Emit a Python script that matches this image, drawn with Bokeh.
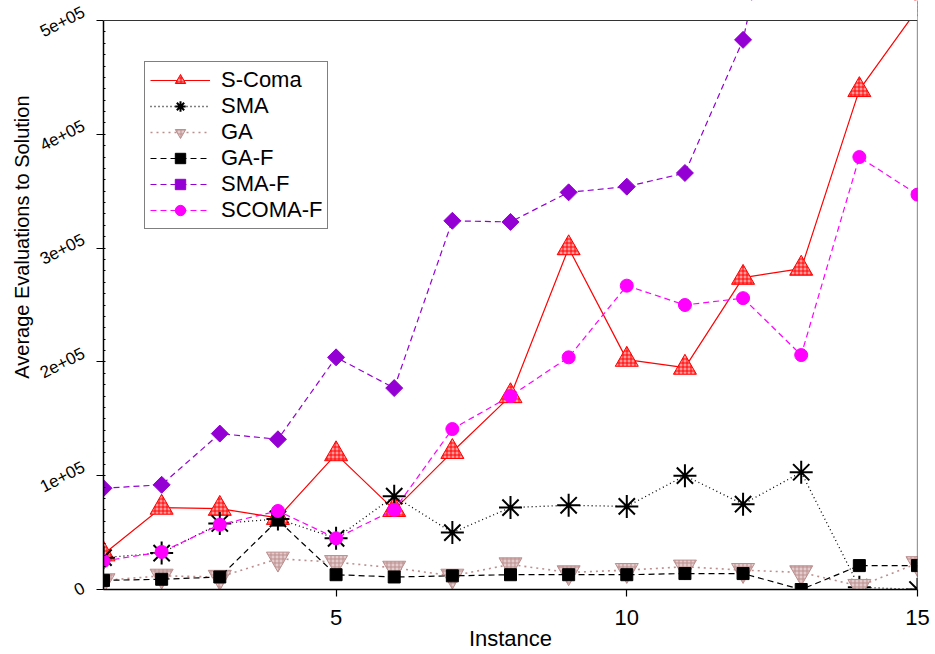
import math
from bokeh.plotting import figure
from bokeh.models import FixedTicker, Legend, LegendItem, Range1d, Title, LinearAxis, Span, BoxAnnotation
from bokeh.embed import file_html
from bokeh.resources import INLINE

# ---------------- data ----------------
instances = list(range(1, 16))
s_coma = [31000, 72000, 71000, 63000, 119000, 70000, 121000, 170000, 300000, 202000, 195000, 274000, 282000, 439000, 510000]
sma = [28000, 32000, 58000, 62000, 45000, 82000, 50000, 72000, 74000, 73000, 100000, 75000, 103000, 2000, 0]
ga = [8000, 12000, 11000, 27000, 24000, 19000, 12000, 22000, 15000, 17000, 20000, 17000, 15000, 3000, 23000]
ga_f = [8000, 9000, 11000, 61000, 13000, 11000, 12000, 13000, 13000, 13000, 14000, 14000, 0, 21000, 21000]
sma_f = [89000, 92000, 137000, 132000, 204000, 177000, 324000, 323000, 349000, 354000, 366000, 483000, 720000, 760000, 800000]
scoma_f = [25000, 33000, 57000, 69000, 45000, 70000, 141000, 170000, 204000, 267000, 250000, 256000, 206000, 380000, 347000]

y_ticks = [0, 100000, 200000, 300000, 400000, 500000]
y_tick_labels = ["0", "1e+05", "2e+05", "3e+05", "4e+05", "5e+05"]
y_minor_ticks = [k * 10000 for k in range(51)]
x_ticks = [5, 10, 15]
X_MIN, X_MAX = 1, 15
Y_MAX = 500000

FONT = "Liberation Sans"
W, H = 935, 654
B_LEFT, B_RIGHT, B_BOTTOM = 103, 18, 65
PLOT_TOP = 20          # where the visible plot box starts
FRAME_TOP = 0          # frame reaches the canvas top so the top tick label has room
data_h = H - PLOT_TOP - B_BOTTOM
frame_h = H - FRAME_TOP - B_BOTTOM
Y_TOP = Y_MAX * frame_h / data_h
px = Y_TOP / frame_h   # data units per pixel


def label_lift(text):
    # rotated labels are centred on their tick: longer labels need a larger lift
    return (3 + 7 * (len(text) - 1) / 4) * px


p = figure(width=W, height=H, x_range=Range1d(X_MIN, X_MAX), y_range=Range1d(0, Y_TOP),
           output_backend="svg", toolbar_location=None,
           min_border_left=B_LEFT, min_border_right=B_RIGHT, min_border_top=FRAME_TOP,
           min_border_bottom=B_BOTTOM)
p.grid.visible = False
p.outline_line_color = None
p.background_fill_color = "white"
p.border_fill_color = "white"

# x axis
xa = p.xaxis[0]
xa.ticker = FixedTicker(ticks=x_ticks)
xa.major_tick_out = 7
xa.major_tick_in = 0
xa.minor_tick_out = 0
xa.minor_tick_in = 0
xa.axis_line_width = 1.5
xa.major_tick_line_width = 1.2
xa.major_label_text_font = FONT
xa.major_label_text_font_size = "22px"
xa.major_label_text_color = "black"
xa.major_label_standoff = 13
xa.axis_label = "Instance"
xa.axis_label_text_font = FONT
xa.axis_label_text_font_size = "22px"
xa.axis_label_text_font_style = "normal"
xa.axis_label_text_color = "black"
xa.axis_label_standoff = -2

# y axis: line + ticks (labels drawn by a companion axis)
ya = p.yaxis[0]
ya.ticker = FixedTicker(ticks=y_ticks, minor_ticks=y_minor_ticks)
ya.bounds = (0, Y_MAX)
ya.major_label_overrides = {t: "" for t in y_ticks}
ya.major_tick_out = 7
ya.major_tick_in = 0
ya.minor_tick_out = 0
ya.minor_tick_in = 2
ya.minor_tick_line_color = "black"
ya.axis_line_width = 1.5
ya.major_tick_line_width = 1.2
ya.major_label_standoff = 0

# companion axis carrying the rotated tick labels
label_pos = [t + label_lift(lab) for t, lab in zip(y_ticks, y_tick_labels)]
la = LinearAxis(ticker=FixedTicker(ticks=label_pos),
                major_label_overrides={pos: lab for pos, lab in zip(label_pos, y_tick_labels)})
la.axis_line_color = None
la.major_tick_line_color = None
la.minor_tick_line_color = None
la.major_tick_out = 0
la.major_tick_in = 0
la.minor_tick_out = 0
la.minor_tick_in = 0
la.major_label_orientation = 0.47
la.major_label_standoff = 13
la.major_label_text_font = FONT
la.major_label_text_font_size = "17px"
la.major_label_text_color = "black"
p.add_layout(la, "left")

# y-axis title
p.add_layout(Title(text="Average Evaluations to Solution", align="right", offset=95,
                   text_font=FONT, text_font_size="20px", text_font_style="normal",
                   text_color="black", standoff=0), "left")

# series
items = []

def add_series(name, ys, color, dash, width, marker, size, fill, angle=0.0, hatch=None, hatch_color=None, mlw=1):
    lr = p.line(instances, ys, line_color=color, line_dash=dash, line_width=width)
    kw = dict(marker=marker, size=size, fill_color=fill, line_color=color, line_width=mlw, angle=angle)
    if hatch:
        kw.update(hatch_pattern=hatch, hatch_color=hatch_color, hatch_scale=4, hatch_weight=1)
    sr = p.scatter(instances, ys, **kw)
    items.append(LegendItem(label=name, renderers=[lr, sr]))

add_series("S-Coma", s_coma, "red", "solid", 1.2, "triangle", 23, "#ff9a9a", hatch="+", hatch_color="red")
add_series("SMA", sma, "black", "1 3", 1.3, "asterisk", 23, None, mlw=2)
add_series("GA", ga, "#BC8F8F", "2 4", 1.6, "inverted_triangle", 23, "#e3cccc", hatch="+", hatch_color="#BC8F8F")
add_series("GA-F", ga_f, "black", "6 4", 1.2, "square", 12, "black")
add_series("SMA-F", sma_f, "#9400D3", "6 4", 1.2, "square", 12, "#9400D3", angle=math.pi / 4)
add_series("SCOMA-F", scoma_f, "#FF00FF", "6 4", 1.2, "circle", 13, "#FF00FF")

# plot box: right edge (under the mask), mask above the top of the y scale, then top edge
p.add_layout(Span(location=X_MAX, dimension="height", line_color="#333333", line_width=1.2, level="annotation"))
p.add_layout(BoxAnnotation(bottom=Y_MAX, fill_color="white", fill_alpha=1.0, line_alpha=0.0, level="overlay"))
p.add_layout(Span(location=Y_MAX, dimension="width", line_color="#333333", line_width=1.2, level="overlay"))

legend = Legend(items=items, location=(41, 360))
legend.label_text_font = FONT
legend.label_text_font_size = "22px"
legend.label_text_color = "black"
legend.glyph_width = 60
legend.glyph_height = 26
legend.label_height = 26
legend.label_standoff = 11
legend.padding = 5
legend.spacing = 0
legend.margin = 0
legend.border_line_color = "black"
legend.border_line_width = 1
legend.background_fill_color = "white"
legend.background_fill_alpha = 1
p.add_layout(legend)

open("out.html", "w").write(file_html(p, INLINE))
